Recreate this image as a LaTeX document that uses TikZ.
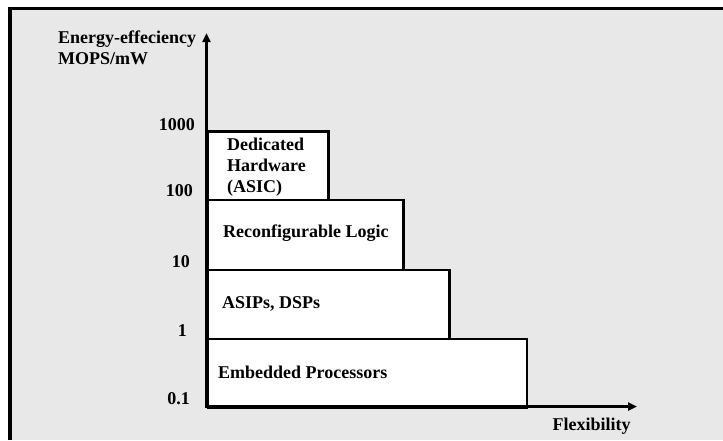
\documentclass[tikz,border=0pt]{standalone}
\usepackage{fontspec}
\setmainfont{Liberation Serif}
\usetikzlibrary{arrows.meta}
\definecolor{panelgray}{HTML}{E8E8E8}
\begin{document}
\begin{tikzpicture}[x=1pt,y=-1pt,
  lbl/.style={font=\bfseries\fontsize{18}{21}\selectfont, inner sep=0pt},
  tier/.style={draw=black, fill=white, line width=2.6pt, inner sep=0pt, anchor=north west},
  axis/.style={line width=3pt, {Triangle[length=9pt,width=8pt]}-{Triangle[length=9pt,width=8pt]}}]
\useasboundingbox (0,0) rectangle (723,440);
% panel with its frame on the left and top
\fill[white] (0,0) rectangle (723,440);
\fill[panelgray] (10,8.5) rectangle (723,440);
\draw[line width=3.5pt] (10,440) -- (10,8.5) -- (723,8.5);

% stacked tiers
\node[tier, minimum width=120.5pt, minimum height=68.5pt] (asic)  at (206.5,130)   {};
\node[tier, minimum width=195.5pt, minimum height=70pt]   (recon) at (206.5,198.5) {};
\node[tier, minimum width=241.5pt, minimum height=69pt]   (asip)  at (206.5,268.5) {};
\node[tier, minimum width=319pt,   minimum height=69pt]   (emb)   at (206.5,337.5) {};

% axes
\coordinate (O)    at (206.5,406.5);
\coordinate (ytip) at (206.5,33);
\coordinate (xtip) at (637,406.5);
\draw[axis] (ytip) -- (O) -- (xtip);

% tier labels
\node[lbl, align=left, anchor=north west] (asicT) at (227,137.5) {Dedicated\\Hardware\\(ASIC)};
\node[lbl, anchor=west] (reconT) at (223,233) {Reconfigurable Logic};
\node[lbl, anchor=west] (asipT)  at (222,304) {ASIPs, DSPs};
\node[lbl, anchor=west] (embT)   at (218,372) {Embedded Processors};

% axis labels
\node[lbl, align=left, anchor=north west] (ylab) at (58,30.5) {Energy-effeciency\\MOPS/mW};
\node[lbl] (xlab) at (591.5,426) {Flexibility};

% scale values
\node[lbl, anchor=east] (t1000) at (195,125) {1000};
\node[lbl, anchor=east] (t100)  at (193,191) {100};
\node[lbl, anchor=east] (t10)   at (190,262) {10};
\node[lbl, anchor=east] (t1)    at (187,331) {1};
\node[lbl, anchor=east] (t01)   at (190,399) {0.1};
\end{tikzpicture}
\end{document}
